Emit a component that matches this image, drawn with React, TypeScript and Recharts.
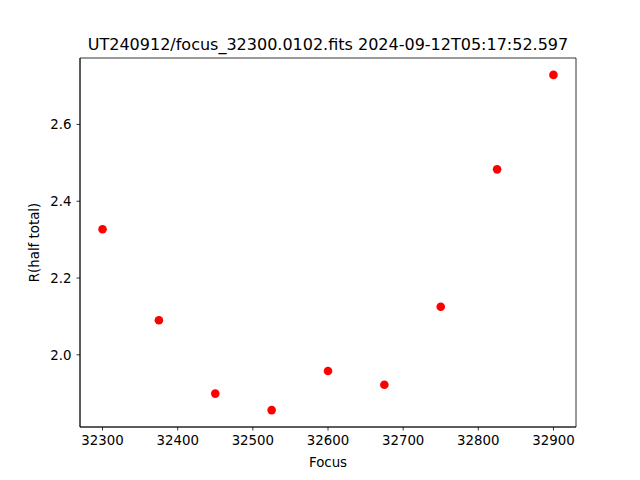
import React from 'react';
import { ScatterChart, Scatter, XAxis, YAxis, ReferenceArea } from 'recharts';

// focus positions and measured half-total radius
const focusValues = [32300, 32375, 32450, 32525, 32600, 32675, 32750, 32825, 32900];
const radiusValues = [2.327, 2.090, 1.899, 1.856, 1.958, 1.922, 2.125, 2.483, 2.729];
const xTicks = [32300, 32400, 32500, 32600, 32700, 32800, 32900];
const yTicks = [2.0, 2.2, 2.4, 2.6];

const titleText = 'UT240912/focus_32300.0102.fits 2024-09-12T05:17:52.597';

const xDomain = [32270, 32930];
const yDomain = [1.812, 2.773];

const data = focusValues.map((f, i) => ({ focus: f, r: radiusValues[i] }));

const FONT = 'DejaVu Sans, sans-serif';
const tickStyle = { fontSize: 13.33, fill: '#000', fontFamily: FONT };

const Dot = (props: any) => {
  const { cx, cy } = props;
  return <circle cx={cx} cy={cy} r={4.3} fill="#ff0000" />;
};

const App: React.FC = () => {
  return (
    <div style={{ position: 'absolute', left: 0, top: 0, width: 640, height: 480, background: '#fff' }}>
      <ScatterChart width={640} height={480} margin={{ top: 58, right: 64, bottom: 0, left: 0 }}>
        <XAxis
          dataKey="focus"
          type="number"
          domain={xDomain}
          ticks={xTicks}
          height={53}
          tick={tickStyle}
          tickSize={3.5}
          tickMargin={5}
          axisLine={{ stroke: '#000', strokeWidth: 0.8 }}
          tickLine={{ stroke: '#000', strokeWidth: 0.8 }}
          allowDataOverflow
        />
        <YAxis
          dataKey="r"
          type="number"
          domain={yDomain}
          ticks={yTicks}
          width={80}
          tick={tickStyle}
          tickSize={3.5}
          tickMargin={5}
          tickFormatter={(v: number) => v.toFixed(1)}
          axisLine={{ stroke: '#000', strokeWidth: 0.8 }}
          tickLine={{ stroke: '#000', strokeWidth: 0.8 }}
          allowDataOverflow
        />
        {/* full box frame like matplotlib spines */}
        <ReferenceArea
          x1={xDomain[0]}
          x2={xDomain[1]}
          y1={yDomain[0]}
          y2={yDomain[1]}
          fill="none"
          fillOpacity={0}
          stroke="#000"
          strokeWidth={0.8}
          strokeOpacity={1}
        />
        <Scatter data={data} shape={<Dot />} isAnimationActive={false} />
      </ScatterChart>
      <svg width={640} height={480} style={{ position: 'absolute', left: 0, top: 0, pointerEvents: 'none' }}>
        <text x={328} y={50} textAnchor="middle" fontSize={16} fontFamily={FONT} fill="#000">
          {titleText}
        </text>
        <text x={328} y={467} textAnchor="middle" fontSize={13.33} fontFamily={FONT} fill="#000">
          Focus
        </text>
        <text
          x={39}
          y={242.5}
          textAnchor="middle"
          fontSize={13.33}
          fontFamily={FONT}
          fill="#000"
          transform="rotate(-90, 39, 242.5)"
        >
          R(half total)
        </text>
      </svg>
    </div>
  );
};

export default App;
